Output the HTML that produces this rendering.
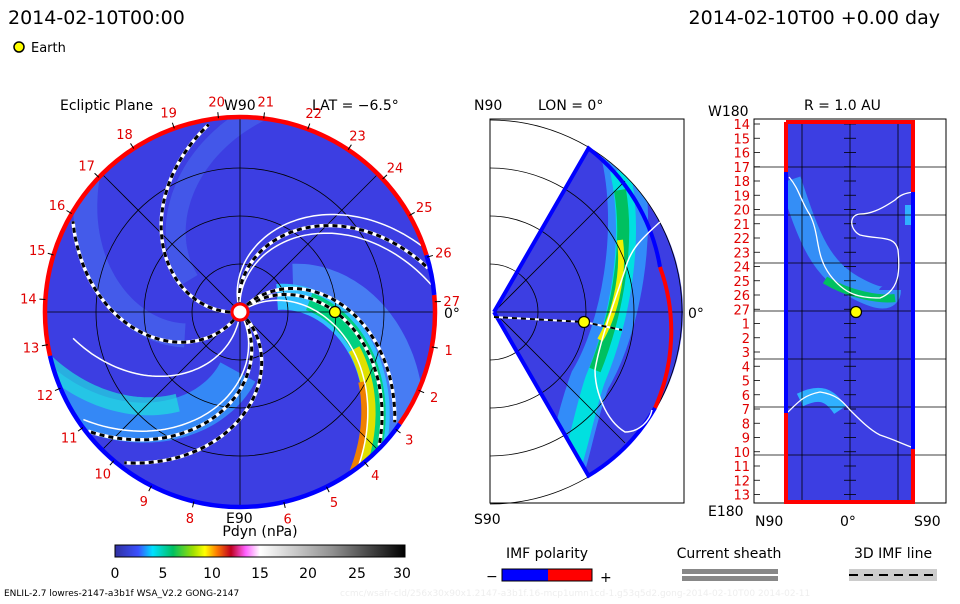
<!DOCTYPE html>
<html><head><meta charset="utf-8"><style>
body{margin:0;background:#fff;width:960px;height:600px;overflow:hidden;font-family:"DejaVu Sans","Liberation Sans",sans-serif}
svg text{font-family:"DejaVu Sans","Liberation Sans",sans-serif}
</style></head><body>
<svg id="s" width="960" height="600" viewBox="0 0 960 600" xmlns="http://www.w3.org/2000/svg">
<defs>
<linearGradient id="cb" x1="0" x2="1">
<stop offset="0" stop-color="#3030a0"/><stop offset="0.08" stop-color="#3a50ff"/><stop offset="0.13" stop-color="#00e0ff"/>
<stop offset="0.2" stop-color="#00c060"/><stop offset="0.27" stop-color="#a0e000"/><stop offset="0.31" stop-color="#ffff00"/>
<stop offset="0.35" stop-color="#ff8000"/><stop offset="0.4" stop-color="#c00020"/><stop offset="0.45" stop-color="#ff60ff"/>
<stop offset="0.5" stop-color="#ffffff"/><stop offset="0.75" stop-color="#909090"/><stop offset="1" stop-color="#000"/>
</linearGradient>
<clipPath id="cc"><circle cx="240" cy="312" r="195"/></clipPath>
<clipPath id="wc"><path d="M494,312 L588.5,148.3 A189,189 0 0 1 588.5,475.7 Z"/></clipPath>
<clipPath id="rc"><rect x="785" y="122" width="129" height="380"/></clipPath>
</defs>
<text x="8" y="24" font-size="19" fill="#000">2014-02-10T00:00</text>
<text x="940" y="24" font-size="19" fill="#000" text-anchor="end">2014-02-10T00 +0.00 day</text>
<circle cx="19" cy="47" r="5" fill="#ff0" stroke="#000" stroke-width="1.5"/>
<text x="31" y="52" font-size="13">Earth</text>

<!-- LEFT -->
<text x="60" y="110" font-size="14">Ecliptic Plane</text>
<text x="224" y="110" font-size="14">W90</text>
<text x="312" y="110" font-size="14">LAT = −6.5°</text>
<circle cx="240" cy="312" r="195" fill="#3c3ee2"/>
<g id="lfill" clip-path="url(#cc)"></g>
<g id="lgrid" fill="none" stroke="#000" stroke-width="0.8">
<circle cx="240" cy="312" r="48"/><circle cx="240" cy="312" r="96"/><circle cx="240" cy="312" r="144"/>
<line x1="45" y1="312" x2="435" y2="312"/><line x1="240" y1="117" x2="240" y2="507"/>
<line x1="102" y1="174" x2="378" y2="450"/><line x1="102" y1="450" x2="378" y2="174"/>
</g>
<g id="lsp"></g>
<g id="rim"></g>
<circle cx="240" cy="312" r="8" fill="#fff" stroke="#f00" stroke-width="3"/>
<circle cx="335" cy="312" r="5.5" fill="#ff0" stroke="#000" stroke-width="1.2"/>
<g id="lab" fill="#e00000" font-size="13" text-anchor="middle"></g>
<text x="444" y="318" font-size="14">0°</text>
<text x="226" y="523" font-size="14">E90</text>

<!-- MIDDLE -->
<text x="474" y="110" font-size="14">N90</text>
<text x="538" y="110" font-size="14">LON = 0°</text>
<rect x="490" y="119" width="194" height="384" fill="none" stroke="#000" stroke-width="1"/>
<path d="M494,312 L588.5,148.3 A189,189 0 0 1 588.5,475.7 Z" fill="#3c3ee2"/>
<g clip-path="url(#wc)">
<path d="M620,150 C640,230 620,330 590,380 C575,420 570,460 560,480" stroke="#30a0ff" stroke-width="40" fill="none" opacity="0.8"/>
<path d="M620,170 C635,240 620,320 595,380 C585,410 580,440 570,470" stroke="#00e0e0" stroke-width="20" fill="none"/>
<path d="M620,190 C630,250 615,320 595,370" stroke="#00c060" stroke-width="12" fill="none"/>
<path d="M620,240 C625,280 612,320 600,340" stroke="#f0f000" stroke-width="6" fill="none"/>
</g>
<g fill="none" stroke="#000" stroke-width="0.8">
<path d="M490,264 A48,48 0 0 1 490,360"/><path d="M490,216 A96,96 0 0 1 490,408"/>
<path d="M490,168 A144,144 0 0 1 490,456"/><path d="M490,120 A192,192 0 0 1 490,504"/>
<line x1="494" y1="312" x2="683" y2="312"/><line x1="494" y1="312" x2="625" y2="181"/><line x1="494" y1="312" x2="625" y2="443"/>
</g>
<path d="M494,312 L588.5,148.3 A189,189 0 0 1 660,267" fill="none" stroke="#0000ff" stroke-width="4"/>
<path d="M660,267 A189,189 0 0 1 655,408" fill="none" stroke="#f00" stroke-width="4"/>
<path d="M655,408 A189,189 0 0 1 588.5,475.7 L494,312" fill="none" stroke="#0000ff" stroke-width="4"/>
<path d="M660,222 C640,240 630,250 625,270 C615,300 600,340 595,370 C595,390 605,420 625,432 C640,432 650,420 652,410" stroke="#fff" stroke-width="1.5" fill="none"/>
<path d="M494,317 L584,322 L622,330" stroke="#fff" stroke-width="2" fill="none"/>
<path d="M494,317 L584,322 L622,330" stroke="#000" stroke-width="2" stroke-dasharray="5,4" fill="none"/>
<circle cx="584" cy="322" r="5.5" fill="#ff0" stroke="#000" stroke-width="1.2"/>
<text x="688" y="318" font-size="14">0°</text>
<text x="474" y="524" font-size="14">S90</text>

<!-- RIGHT -->
<text x="804" y="110" font-size="14">R = 1.0 AU</text>
<text x="708" y="116" font-size="14">W180</text>
<text x="708" y="516" font-size="14">E180</text>
<rect x="754" y="119" width="192" height="384" fill="#fff" stroke="#000" stroke-width="1"/>
<rect x="785" y="122" width="129" height="380" fill="#3c3ee2"/>
<g clip-path="url(#rc)">
<path d="M790,180 C810,240 820,270 860,290 C880,300 890,300 890,290" stroke="#30b0ff" stroke-width="22" fill="none" opacity="0.7"/>
<path d="M825,280 C850,295 880,300 895,298" stroke="#00c060" stroke-width="8" fill="none"/>
<path d="M800,400 C820,390 830,395 840,410" stroke="#30b0ff" stroke-width="14" fill="none"/>
<path d="M905,215 L914,215" stroke="#30b0ff" stroke-width="20"/>
</g>
<g id="rgrid" stroke="#000" stroke-width="0.8"></g>
<path d="M789,177 C800,190 800,200 810,215 C820,235 815,255 830,275 C845,295 860,298 880,298 C900,290 900,270 898,250 C895,235 880,240 860,235 C850,230 848,215 860,214 C870,214 880,210 895,200 C900,195 905,193 914,192" stroke="#fff" stroke-width="1.3" fill="none"/>
<path d="M788,412 C800,400 805,395 820,392 C840,395 845,405 850,410 C860,420 870,430 880,435 C895,440 905,445 914,448" stroke="#fff" stroke-width="1.3" fill="none"/>
<path d="M786,122 V172 M786,413 V502 H913 V449 M913,192 V122 H786" fill="none" stroke="#f00" stroke-width="4"/>
<path d="M786,172 V413 M913,192 V449" fill="none" stroke="#0000ff" stroke-width="4"/>
<circle cx="856" cy="312" r="5.5" fill="#ff0" stroke="#000" stroke-width="1.2"/>
<g id="rlab" fill="#e00000" font-size="13" text-anchor="end"></g>
<text x="755" y="526" font-size="14">N90</text>
<text x="840" y="526" font-size="14">0°</text>
<text x="914" y="526" font-size="14">S90</text>

<!-- BOTTOM -->
<text x="260" y="536" font-size="14" text-anchor="middle">Pdyn (nPa)</text>
<rect x="115" y="545" width="290" height="12" fill="url(#cb)" stroke="#000" stroke-width="1"/>
<g font-size="14" text-anchor="middle">
<text x="115" y="578">0</text><text x="163" y="578">5</text><text x="212" y="578">10</text><text x="260" y="578">15</text><text x="308" y="578">20</text><text x="357" y="578">25</text><text x="402" y="578">30</text>
</g>
<text x="547" y="558" font-size="14" text-anchor="middle">IMF polarity</text>
<text x="486" y="581" font-size="14">−</text>
<rect x="502" y="569" width="46" height="12" fill="#0000ff"/><rect x="548" y="569" width="44" height="12" fill="#f00"/>
<rect x="502" y="569" width="90" height="12" fill="none" stroke="#000"/>
<text x="600" y="582" font-size="14">+</text>
<text x="729" y="558" font-size="14" text-anchor="middle">Current sheath</text>
<rect x="682" y="569" width="96" height="5" fill="#888"/><rect x="682" y="576" width="96" height="5" fill="#888"/>
<text x="893" y="558" font-size="14" text-anchor="middle">3D IMF line</text>
<rect x="849" y="569" width="88" height="12" fill="#ccc"/>
<line x1="849" y1="575" x2="937" y2="575" stroke="#000" stroke-width="2" stroke-dasharray="9,6"/>
<text x="4" y="596" font-size="9">ENLIL-2.7 lowres-2147-a3b1f WSA_V2.2 GONG-2147</text>
<text x="340" y="596" font-size="9" fill="#eee">ccmc/wsafr-cld/256x30x90x1.2147-a3b1f.16-mcp1umn1cd-1.g53q5d2.gong-2014-02-10T00  2014-02-11</text>
</svg>
<script>
var NS="http://www.w3.org/2000/svg",cx=240,cy=312;
function el(p,t,a,txt){var e=document.createElementNS(NS,t);for(var k in a)e.setAttribute(k,a[k]);if(txt!=null)e.textContent=txt;document.getElementById(p).appendChild(e);return e;}
function P(r,deg){var a=deg*Math.PI/180;return [cx+r*Math.cos(a),cy-r*Math.sin(a)];}
function spiral(phi0,r0,r1){var d="";for(var r=r0;r<=r1;r+=3){var p=P(r,phi0-0.45*r);d+=(d?"L":"M")+p[0].toFixed(1)+","+p[1].toFixed(1);}return d;}
// fills
el("lfill","path",{d:spiral(55,60,210),stroke:"#4a8cf8","stroke-width":40,fill:"none",opacity:0.8});
el("lfill","path",{d:spiral(40,40,210),stroke:"#30c0ff","stroke-width":26,fill:"none"});
el("lfill","path",{d:spiral(40,70,210),stroke:"#00d080","stroke-width":18,fill:"none"});
el("lfill","path",{d:spiral(36,120,210),stroke:"#e0e000","stroke-width":12,fill:"none"});
el("lfill","path",{d:spiral(33,140,210),stroke:"#f08000","stroke-width":6,fill:"none"});
el("lfill","path",{d:spiral(295,60,215),stroke:"#30a8ff","stroke-width":40,fill:"none",opacity:0.7});
el("lfill","path",{d:spiral(285,110,215),stroke:"#20e0e0","stroke-width":18,fill:"none",opacity:0.7});
el("lfill","path",{d:spiral(230,60,215),stroke:"#4a70f0","stroke-width":24,fill:"none",opacity:0.6});
el("lfill","path",{d:spiral(175,60,215),stroke:"#4a70f0","stroke-width":20,fill:"none",opacity:0.5});
// spirals
[[43,10,195,1],[50,10,190,1],[100,10,195,1],[107,10,195,0],[185,10,190,1],[237,10,190,1],[305,10,195,1],[318,10,190,1],[265,10,170,0],[300,10,190,0],[35,10,195,0],[95,10,195,0]].forEach(function(s){
 var d=spiral(s[0],s[1],s[2]);
 el("lsp","path",{d:d,stroke:"#fff","stroke-width":s[3]?3.5:1.5,fill:"none"});
 if(s[3])el("lsp","path",{d:d,stroke:"#000","stroke-width":3,"stroke-dasharray":"5,4",fill:"none"});
});
// rim
function arc(a0,a1,col){var p0=P(195,a0),p1=P(195,a1);el("rim","path",{d:"M"+p0[0]+","+p0[1]+" A195,195 0 "+((a1-a0)>180?1:0)+" 0 "+p1[0]+","+p1[1],stroke:col,"stroke-width":4.5,fill:"none"});}
arc(-35,5,"#f00");arc(5,17,"#00f");arc(17,193,"#f00");arc(193,325,"#00f");
// labels
var names=[27,1,2,3,4,5,6,7,8,9,10,11,12,13,14,15,16,17,18,19,20,21,22,23,24,25,26];
for(var i=0;i<27;i++){if(names[i]==7)continue;var a=3-13.333*i,p=P(212,a);el("lab","text",{x:p[0].toFixed(1),y:(p[1]+5).toFixed(1)},""+names[i]);
 var q=P(195,a),q2=P(201,a);el("rim","line",{x1:q[0],y1:q[1],x2:q2[0],y2:q2[1],stroke:"#000","stroke-width":1});}
// right grid
[167,215,263,311,359,407,455].forEach(function(y){el("rgrid","line",{x1:754,y1:y,x2:946,y2:y});});
[802,850,898].forEach(function(x){el("rgrid","line",{x1:x,y1:122,x2:x,y2:502});});
var rn=[14,15,16,17,18,19,20,21,22,23,24,25,26,27,1,2,3,4,5,6,7,8,9,10,11,12,13];
for(var i=0;i<27;i++){var y=124+i*14.25;el("rlab","text",{x:750,y:(y+5).toFixed(1)},""+rn[i]);el("rgrid","line",{x1:754,y1:y,x2:760,y2:y});el("rgrid","line",{x1:844,y1:y,x2:856,y2:y});}
</script>
</body></html>
